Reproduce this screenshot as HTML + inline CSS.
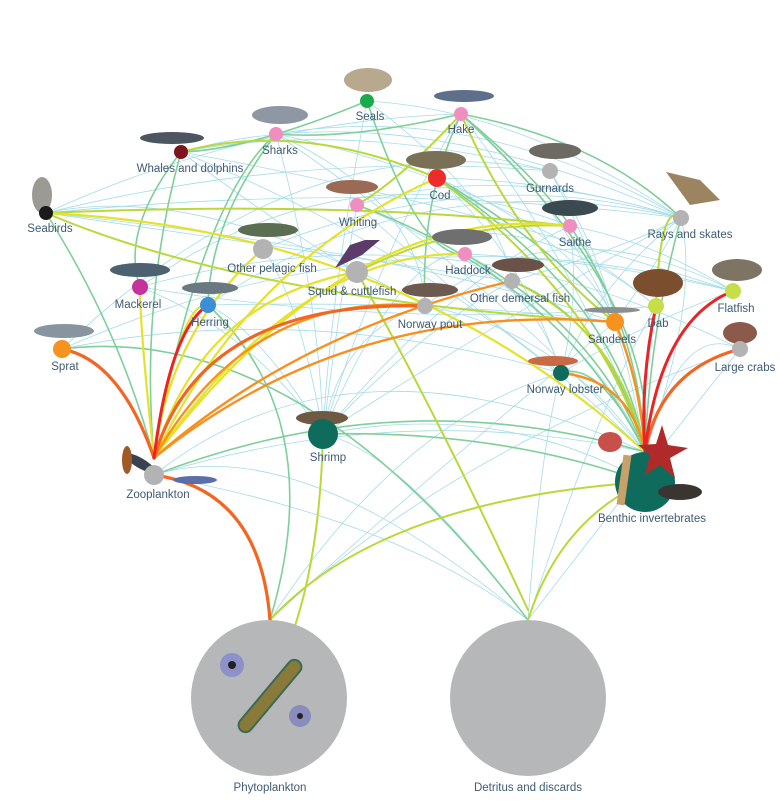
<!DOCTYPE html>
<html><head><meta charset="utf-8"><style>
html,body{margin:0;padding:0;background:#fff;}
svg{display:block}
text{font-family:"Liberation Sans",sans-serif;font-size:11.5px;fill:#3f5a74;text-anchor:middle}
</style></head><body>
<svg width="780" height="804" viewBox="0 0 780 804" xmlns="http://www.w3.org/2000/svg">
<g fill="none" stroke-linecap="round">
<g stroke="#9bd8e6" stroke-width="0.8" opacity="0.9">
<path d="M46 213 Q250 120 461 114"/><path d="M46 213 Q300 150 550 171"/><path d="M46 213 Q380 180 681 218"/>
<path d="M181 152 Q400 90 681 218"/><path d="M181 152 Q350 120 550 171"/><path d="M276 134 Q480 100 681 218"/>
<path d="M367 101 Q520 110 681 218"/><path d="M461 114 Q600 140 681 218"/><path d="M461 114 Q560 200 615 322"/>
<path d="M367 101 Q500 200 512 281"/><path d="M276 134 Q420 200 425 306"/><path d="M181 152 Q300 240 357 272"/>
<path d="M62 349 Q300 120 550 171"/><path d="M140 287 Q350 140 570 226"/><path d="M208 305 Q420 160 681 218"/>
<path d="M263 249 Q480 160 681 218"/><path d="M357 272 Q500 180 656 306"/><path d="M425 306 Q560 200 733 291"/>
<path d="M62 349 Q400 200 733 291"/><path d="M140 287 Q450 200 740 349"/><path d="M46 213 Q400 250 615 322"/>
<path d="M323 434 Q340 300 357 205"/><path d="M323 434 Q320 300 276 134"/><path d="M323 434 Q400 250 465 254"/>
<path d="M323 434 Q450 280 570 226"/><path d="M323 434 Q500 320 681 218"/><path d="M323 434 Q300 300 263 249"/>
<path d="M561 373 Q520 250 437 178"/><path d="M561 373 Q600 280 681 218"/><path d="M561 373 Q460 300 357 205"/>
<path d="M645 452 Q600 300 461 114"/><path d="M645 452 Q580 300 357 205"/><path d="M645 452 Q620 300 550 171"/>
<path d="M645 452 Q700 300 681 218"/><path d="M645 452 Q520 300 276 134"/><path d="M645 452 Q450 260 181 152"/>
<path d="M154 475 Q350 320 645 452"/><path d="M154 475 Q400 400 645 452"/><path d="M323 434 Q500 400 645 482"/>
<path d="M270 620 Q400 420 561 373"/><path d="M528 620 Q540 450 561 373"/><path d="M528 620 Q400 450 323 434"/>
<path d="M528 620 Q620 500 740 349"/><path d="M270 620 Q450 450 740 349"/><path d="M154 475 Q400 520 528 620"/>
<path d="M46 213 Q200 180 425 306"/><path d="M181 152 Q450 200 733 291"/><path d="M276 134 Q500 180 656 306"/>
<path d="M437 178 Q560 180 681 218"/><path d="M357 205 Q500 160 681 218"/><path d="M570 226 Q650 240 733 291"/>
<path d="M512 281 Q620 250 681 218"/><path d="M465 254 Q600 260 733 291"/><path d="M208 305 Q450 300 615 322"/>
<path d="M323 434 Q330 300 367 101"/><path d="M323 434 Q380 250 461 114"/><path d="M323 434 Q340 330 425 306"/>
<path d="M323 434 Q420 330 512 281"/><path d="M323 434 Q260 330 208 305"/><path d="M323 434 Q250 330 140 287"/>
<path d="M561 373 Q580 300 570 226"/><path d="M561 373 Q540 300 465 254"/><path d="M561 373 Q650 320 733 291"/>
<path d="M615 322 Q600 250 550 171"/><path d="M615 322 Q580 240 437 178"/><path d="M615 322 Q660 260 681 218"/>
<path d="M154 475 Q300 430 528 620"/><path d="M270 620 Q400 500 615 322"/><path d="M528 620 Q600 400 656 306"/>
<path d="M46 213 Q300 250 512 281"/><path d="M62 349 Q300 300 561 373"/><path d="M140 287 Q400 330 656 306"/>
<path d="M645 452 Q680 320 740 349"/><path d="M645 452 Q560 330 425 306"/>
</g>
<g stroke="#7fcf9a" stroke-width="1.6">
<path d="M46 213 Q120 330 154 458"/><path d="M181 152 Q140 300 154 458"/><path d="M276 134 Q350 140 461 114"/>
<path d="M367 101 Q250 150 181 152"/><path d="M461 114 Q600 140 681 218"/><path d="M461 114 Q420 200 425 306"/>
<path d="M437 178 Q560 250 615 322"/><path d="M276 134 Q210 220 208 305"/><path d="M181 152 Q120 230 140 287"/>
<path d="M62 349 Q300 320 528 620"/><path d="M208 305 Q330 420 270 620"/><path d="M154 475 Q400 380 645 452"/>
<path d="M323 434 Q500 430 645 482"/><path d="M561 373 Q600 360 645 452"/><path d="M437 178 Q620 300 645 452"/>
<path d="M465 254 Q600 330 645 452"/><path d="M570 226 Q640 330 645 452"/><path d="M461 114 Q660 300 645 452"/>
<path d="M681 218 Q650 330 645 452"/><path d="M357 205 Q560 280 645 452"/><path d="M512 281 Q610 320 645 452"/>
<path d="M367 101 Q420 260 465 254"/><path d="M461 114 Q540 180 570 226"/><path d="M276 134 Q200 200 154 458"/>
</g>
<g stroke="#b9d83a" stroke-width="2">
<path d="M46 213 Q350 200 570 226"/><path d="M46 213 Q250 300 615 322"/><path d="M461 114 Q520 250 615 322"/>
<path d="M461 114 Q400 180 357 205"/><path d="M437 178 Q300 120 181 152"/><path d="M570 226 Q460 220 357 272"/>
<path d="M270 620 Q380 500 645 482"/><path d="M528 620 Q560 520 645 482"/><path d="M323 434 Q320 560 290 640"/>
<path d="M357 272 Q440 420 528 610"/><path d="M656 306 Q660 200 681 218"/><path d="M437 178 Q600 300 645 452"/>
<path d="M512 281 Q620 330 645 452"/>
</g>
<g stroke="#e4e22a" stroke-width="2.2">
<path d="M154 458 Q170 330 263 249"/><path d="M154 458 Q200 300 357 272"/><path d="M154 458 Q250 260 437 178"/>
<path d="M154 458 Q300 250 465 254"/><path d="M154 458 Q180 300 208 305"/><path d="M154 458 Q140 330 140 287"/>
<path d="M154 458 Q350 200 570 226"/><path d="M46 213 Q400 230 645 452"/>
</g>
<g stroke="#f6901e" stroke-width="2.4">
<path d="M154 458 Q250 290 425 306"/><path d="M154 458 Q350 300 615 322"/><path d="M154 458 Q300 330 512 281"/>
<path d="M561 373 Q630 380 645 452"/><path d="M615 322 Q640 380 645 452"/>
</g>
<g stroke="#f26522" stroke-width="3.2">
<path d="M154 458 Q200 300 425 306"/><path d="M740 349 Q660 370 645 452"/><path d="M62 349 Q120 360 154 458"/>
<path d="M270 620 Q260 490 154 475"/>
</g>
<g stroke="#ec2227" stroke-width="3">
<path d="M154 458 Q170 330 208 305"/><path d="M733 291 Q660 320 645 452"/><path d="M656 306 Q640 380 645 452"/>
</g>
</g>
<circle cx="269" cy="698" r="78" fill="#b6b7b8"/>
<circle cx="528" cy="698" r="78" fill="#b6b7b8"/>
<g transform="rotate(-50 270 696)"><rect x="225" y="689" width="90" height="14" rx="7" fill="#8a7a3a" stroke="#3a6a55" stroke-width="2"/></g>
<circle cx="232" cy="665" r="12" fill="#7c7fd0" opacity="0.7"/><circle cx="232" cy="665" r="4" fill="#222"/>
<circle cx="300" cy="716" r="11" fill="#6a70c0" opacity="0.6"/><circle cx="300" cy="716" r="3" fill="#222"/>
<g>
<ellipse cx="368" cy="80" rx="24" ry="12" fill="#b8a98e"/>
<ellipse cx="464" cy="96" rx="30" ry="6" fill="#5d6f8a"/>
<ellipse cx="280" cy="115" rx="28" ry="9" fill="#8f98a2"/>
<ellipse cx="172" cy="138" rx="32" ry="6" fill="#4d5560"/>
<ellipse cx="555" cy="151" rx="26" ry="8" fill="#6d6963"/>
<ellipse cx="436" cy="160" rx="30" ry="9" fill="#7a7055"/>
<ellipse cx="352" cy="187" rx="26" ry="7" fill="#9a6a55"/>
<ellipse cx="42" cy="195" rx="10" ry="18" fill="#9c9a94"/>
<path d="M666 172 L700 180 L720 200 L690 205 Z" fill="#9c8460"/>
<ellipse cx="570" cy="208" rx="28" ry="8" fill="#3b4a50"/>
<ellipse cx="268" cy="230" rx="30" ry="7" fill="#5b6e52"/>
<ellipse cx="462" cy="237" rx="30" ry="8" fill="#6f6f6f"/>
<path d="M335 268 L350 245 L365 240 L380 240 L362 255 Z" fill="#5c3a6a"/>
<ellipse cx="518" cy="265" rx="26" ry="7" fill="#6b5248"/>
<ellipse cx="140" cy="270" rx="30" ry="7" fill="#4d6270"/>
<ellipse cx="737" cy="270" rx="25" ry="11" fill="#7d7464"/>
<ellipse cx="210" cy="288" rx="28" ry="6" fill="#6a7882"/>
<ellipse cx="430" cy="290" rx="28" ry="7" fill="#6d5a4f"/>
<ellipse cx="658" cy="283" rx="25" ry="14" fill="#7b4f2d"/>
<ellipse cx="612" cy="310" rx="28" ry="3" fill="#8a8f8f"/>
<ellipse cx="64" cy="331" rx="30" ry="7" fill="#8894a0"/>
<ellipse cx="740" cy="333" rx="17" ry="11" fill="#8b5a4a"/>
<ellipse cx="553" cy="361" rx="25" ry="5" fill="#c86a45"/>
<ellipse cx="322" cy="418" rx="26" ry="7" fill="#6e5a42"/>
<ellipse cx="140" cy="463" rx="18" ry="5" fill="#39424e" transform="rotate(30 140 463)"/>
<ellipse cx="195" cy="480" rx="22" ry="4" fill="#5a6fa8"/>
<ellipse cx="127" cy="460" rx="5" ry="14" fill="#a05a25"/>
</g>
<circle cx="367" cy="101" r="7" fill="#1aab4b"/>
<circle cx="461" cy="114" r="7" fill="#f08fbf"/>
<circle cx="276" cy="134" r="7" fill="#f08fbf"/>
<circle cx="181" cy="152" r="7" fill="#7d1420"/>
<circle cx="550" cy="171" r="8" fill="#b3b3b3"/>
<circle cx="437" cy="178" r="9" fill="#ee2b2b"/>
<circle cx="357" cy="205" r="7" fill="#f08fbf"/>
<circle cx="46" cy="213" r="7" fill="#1a1a1a"/>
<circle cx="681" cy="218" r="8" fill="#b3b3b3"/>
<circle cx="570" cy="226" r="7" fill="#f08fbf"/>
<circle cx="263" cy="249" r="10" fill="#b3b3b3"/>
<circle cx="465" cy="254" r="7" fill="#f08fbf"/>
<circle cx="357" cy="272" r="11" fill="#b3b3b3"/>
<circle cx="512" cy="281" r="8" fill="#b3b3b3"/>
<circle cx="140" cy="287" r="8" fill="#c4339a"/>
<circle cx="733" cy="291" r="8" fill="#c8dd4a"/>
<circle cx="208" cy="305" r="8" fill="#3d8ed6"/>
<circle cx="425" cy="306" r="8" fill="#b3b3b3"/>
<circle cx="656" cy="306" r="8" fill="#c8dd4a"/>
<circle cx="615" cy="322" r="9" fill="#f6921e"/>
<circle cx="62" cy="349" r="9" fill="#f6921e"/>
<circle cx="740" cy="349" r="8" fill="#b3b3b3"/>
<circle cx="561" cy="373" r="8" fill="#0f6b5c"/>
<circle cx="323" cy="434" r="15" fill="#0f6b5c"/>
<circle cx="154" cy="475" r="10" fill="#b3b3b3"/>
<circle cx="645" cy="482" r="30" fill="#0f6b5c"/>
<path d="M662 425 L668 445 L688 448 L670 458 L675 478 L660 465 L645 475 L650 455 L638 445 L656 444 Z" fill="#b02a2a"/>
<ellipse cx="610" cy="442" rx="12" ry="10" fill="#c8504a"/>
<ellipse cx="680" cy="492" rx="22" ry="8" fill="#3a3530"/>
<rect x="620" y="455" width="8" height="50" fill="#c8a06a" transform="rotate(8 624 480)"/>
<text x="370" y="120">Seals</text>
<text x="461" y="133">Hake</text>
<text x="280" y="154">Sharks</text>
<text x="190" y="172">Whales and dolphins</text>
<text x="550" y="192">Gurnards</text>
<text x="440" y="199">Cod</text>
<text x="358" y="226">Whiting</text>
<text x="50" y="232">Seabirds</text>
<text x="690" y="238">Rays and skates</text>
<text x="575" y="246">Saithe</text>
<text x="272" y="272">Other pelagic fish</text>
<text x="468" y="274">Haddock</text>
<text x="352" y="295">Squid &amp; cuttlefish</text>
<text x="520" y="302">Other demersal fish</text>
<text x="138" y="308">Mackerel</text>
<text x="736" y="312">Flatfish</text>
<text x="210" y="326">Herring</text>
<text x="430" y="328">Norway pout</text>
<text x="658" y="327">Dab</text>
<text x="612" y="343">Sandeels</text>
<text x="65" y="370">Sprat</text>
<text x="745" y="371">Large crabs</text>
<text x="565" y="393">Norway lobster</text>
<text x="328" y="461">Shrimp</text>
<text x="158" y="498">Zooplankton</text>
<text x="652" y="522">Benthic invertebrates</text>
<text x="270" y="791">Phytoplankton</text>
<text x="528" y="791">Detritus and discards</text>
</svg>
</body></html>
